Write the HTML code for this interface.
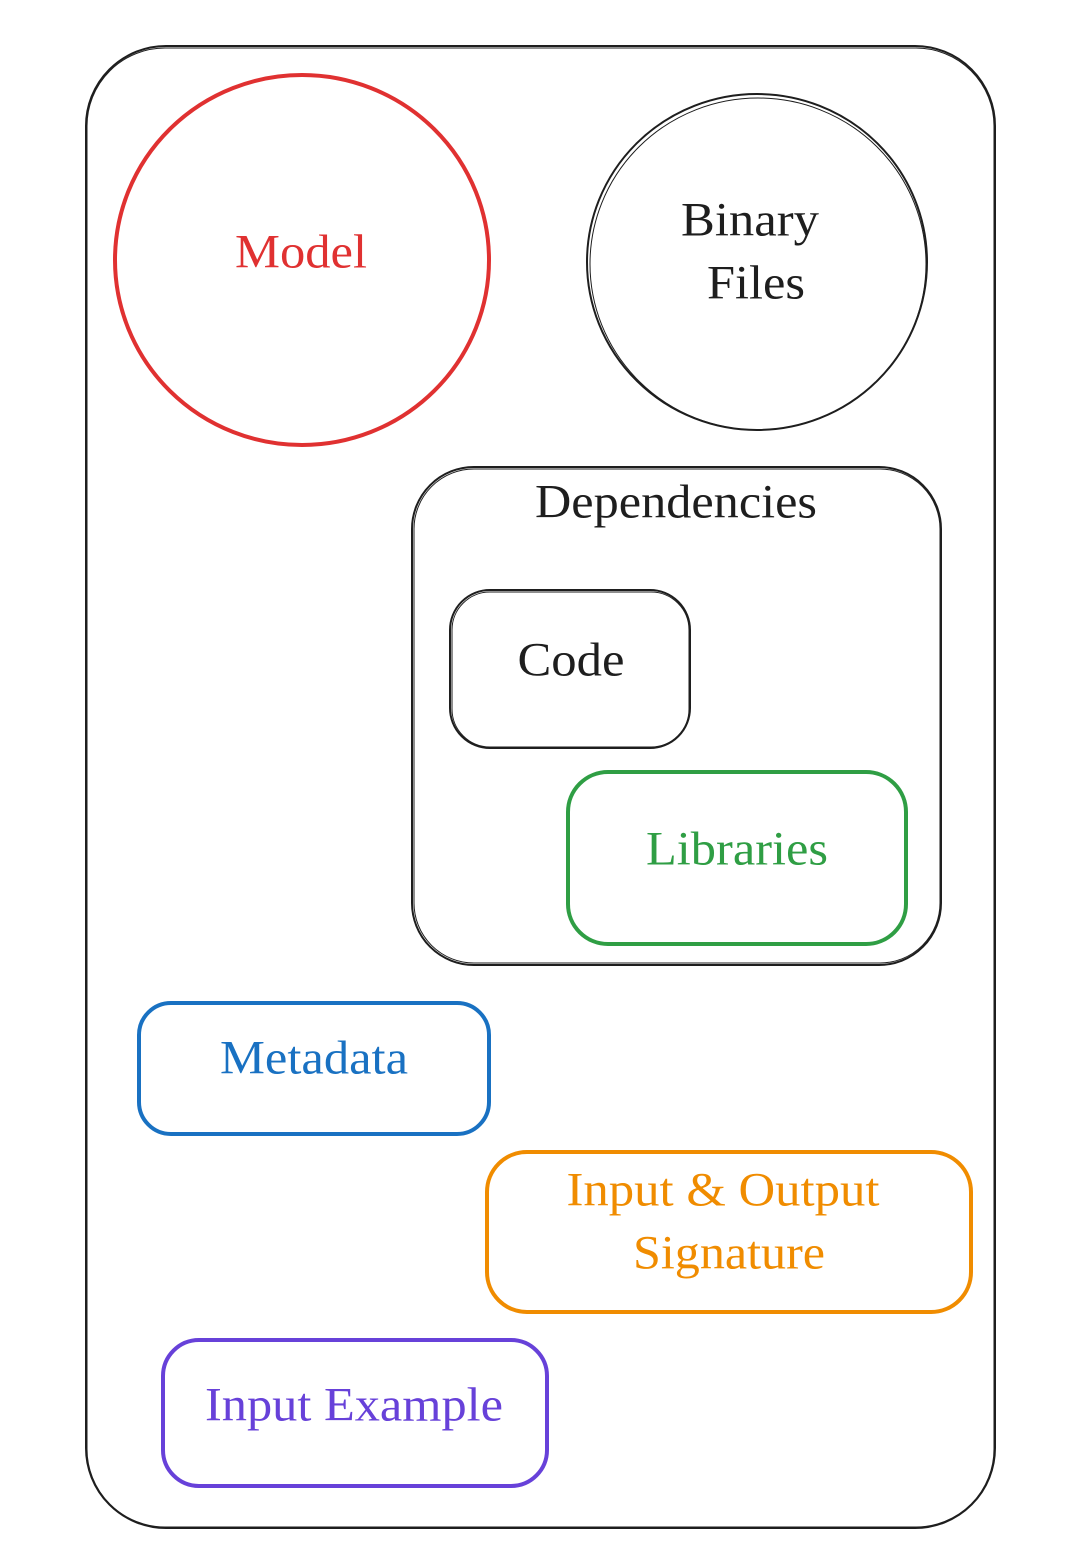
<!DOCTYPE html>
<html><head><meta charset="utf-8"><style>html,body{margin:0;padding:0;background:#fff}svg{display:block}</style></head>
<body>
<svg width="1088" height="1560" viewBox="0 0 1088 1560" xmlns="http://www.w3.org/2000/svg" font-family="'Liberation Serif', serif" font-size="48" text-anchor="middle">
<g fill="none" stroke-width="2" stroke="#1e1e1e">
<rect x="86" y="46" width="909" height="1482" rx="80"/>
<rect x="87" y="48" width="907" height="1479" rx="78" stroke-width="1"/>
<ellipse cx="757" cy="262" rx="170" ry="168"/>
<ellipse cx="758" cy="264" rx="168" ry="166" stroke-width="1"/>
<rect x="412" y="467" width="529" height="498" rx="62"/>
<rect x="414" y="469" width="526" height="494" rx="60" stroke-width="1"/>
<rect x="450" y="590" width="240" height="158" rx="40"/>
<rect x="452" y="592" width="237" height="155" rx="38" stroke-width="1"/>
</g>
<ellipse cx="302" cy="260" rx="187" ry="185" fill="none" stroke="#e03131" stroke-width="4"/>
<rect x="568" y="772" width="338" height="172" rx="40" fill="none" stroke="#2f9e44" stroke-width="4"/>
<rect x="139" y="1003" width="350" height="131" rx="32" fill="none" stroke="#1971c2" stroke-width="4"/>
<rect x="487" y="1152" width="484" height="160" rx="40" fill="none" stroke="#f08c00" stroke-width="4"/>
<rect x="163" y="1340" width="384" height="146" rx="36" fill="none" stroke="#6741d9" stroke-width="4"/>
<g dominant-baseline="central" lengthAdjust="spacingAndGlyphs">
<text x="301" y="252" fill="#e03131" textLength="132" lengthAdjust="spacingAndGlyphs">Model</text>
<text x="750" y="220" fill="#1e1e1e" textLength="138" lengthAdjust="spacingAndGlyphs">Binary</text>
<text x="756" y="283" fill="#1e1e1e" textLength="98" lengthAdjust="spacingAndGlyphs">Files</text>
<text x="676" y="502" fill="#1e1e1e" textLength="282" lengthAdjust="spacingAndGlyphs">Dependencies</text>
<text x="571" y="660" fill="#1e1e1e" textLength="107" lengthAdjust="spacingAndGlyphs">Code</text>
<text x="737" y="849" fill="#2f9e44" textLength="182" lengthAdjust="spacingAndGlyphs">Libraries</text>
<text x="314" y="1058" fill="#1971c2" textLength="188" lengthAdjust="spacingAndGlyphs">Metadata</text>
<text x="723" y="1190" fill="#f08c00" textLength="313" lengthAdjust="spacingAndGlyphs">Input &amp; Output</text>
<text x="729" y="1253" fill="#f08c00" textLength="192" lengthAdjust="spacingAndGlyphs">Signature</text>
<text x="354" y="1405" fill="#6741d9" textLength="298" lengthAdjust="spacingAndGlyphs">Input Example</text>
</g>
</svg>
</body></html>
